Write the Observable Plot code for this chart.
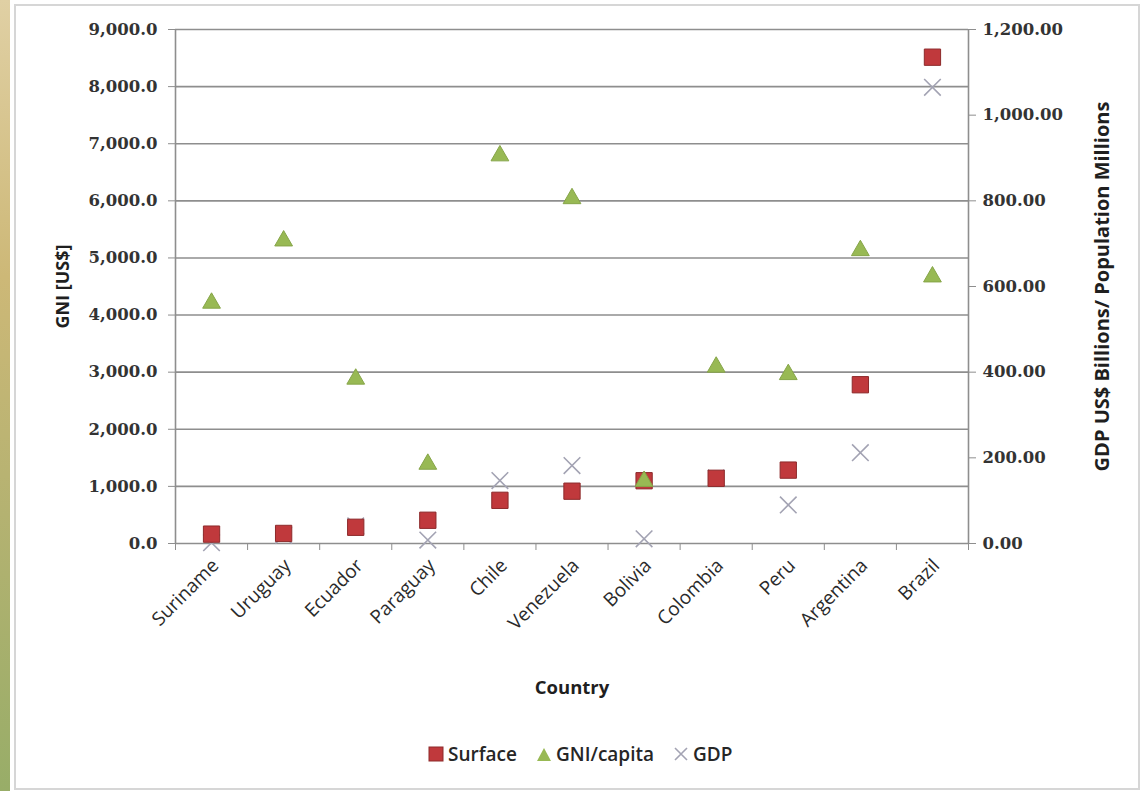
<!DOCTYPE html>
<html>
<head>
<meta charset="utf-8">
<script src="https://cdn.jsdelivr.net/npm/d3@7"></script>
<script src="https://cdn.jsdelivr.net/npm/@observablehq/plot@0.6"></script>
<style>
  html, body { margin: 0; padding: 0; background: #fff; }
  #page { position: relative; width: 1145px; height: 791px; overflow: hidden; background: #fff; }
  #stripe { position: absolute; left: 0; top: 0; width: 10px; height: 791px;
    background: linear-gradient(to bottom, #e0d0a4 0%, #cdb877 35%, #b4b271 65%, #98ad68 100%); }
  #frame { position: absolute; left: 14px; top: 4px; width: 1122px; height: 782px;
    border: 2px solid #d6d6d6; }
  #chart { position: absolute; left: 0; top: 0; }
  #legend { position: absolute; left: 428px; top: 741px; display: flex; align-items: center;
    font-family: "Open Sans", sans-serif; font-weight: 600; font-size: 19px; color: #262626; }
  #legend .item { display: flex; align-items: center; margin-right: 19px; }
  #legend svg { margin-right: 4px; }
</style>
</head>
<body>
<div id="page">
  <div id="stripe"></div>
  <div id="frame"></div>
  <div id="chart"></div>
  <div id="legend"></div>
</div>
<script>
// South American countries, ordered by surface area
const countries = ["Suriname", "Uruguay", "Ecuador", "Paraguay", "Chile", "Venezuela",
  "Bolivia", "Colombia", "Peru", "Argentina", "Brazil"];
// Surface, thousand km² (left axis)
const surface = [164, 176, 284, 407, 756, 916, 1099, 1142, 1285, 2780, 8515];
// GNI per capita, US$ (left axis)
const gniPerCapita = [4210, 5300, 2880, 1390, 6790, 6040, 1090, 3090, 2960, 5130, 4670];
// GDP, US$ billions (right axis)
const gdp = [2, 19, 41, 8, 147, 182, 11, 153, 90, 212, 1065];

const leftTicks = d3.range(0, 9001, 1000);
const rightTicks = d3.range(0, 1201, 200);
const rightToLeft = 9000 / 1200; // right axis shares the left scale

const rows = countries.map((c, i) => ({
  country: c, i, surface: surface[i], gni: gniPerCapita[i], gdp: gdp[i]
}));

const serif = "DejaVu Serif, serif";
const sans = "Open Sans, sans-serif";

const chart = Plot.plot({
  width: 1145,
  height: 725,
  marginLeft: 175,
  marginRight: 177,
  marginTop: 29,
  marginBottom: 182,
  style: { background: "transparent", color: "#333" },
  x: { type: "linear", domain: [0, countries.length] },
  y: { domain: [0, 9000] },
  marks: [
    Plot.gridY(leftTicks.slice(1), { stroke: "#8e8e8e", strokeOpacity: 1, strokeWidth: 1.6 }),
    Plot.ruleY([0], { stroke: "#8e8e8e", strokeWidth: 1.6 }),
    Plot.ruleX([0, countries.length], { stroke: "#8e8e8e", strokeWidth: 1.6 }),
    // left axis: GNI
    Plot.axisY({
      ticks: leftTicks, tickSize: 7, tickPadding: 11, stroke: "#8e8e8e",
      tickFormat: d3.format(",.1f"), fontFamily: serif, fontWeight: "bold", fontSize: 16.5, fill: "#333",
      label: "GNI [US$]", labelAnchor: "center", labelArrow: "none", labelOffset: 119
    }),
    // right axis: GDP / population
    Plot.axisY({
      anchor: "right", ticks: rightTicks.map(v => v * rightToLeft), tickSize: 7, tickPadding: 7,
      stroke: "#8e8e8e", tickFormat: d => d3.format(",.2f")(d / rightToLeft),
      fontFamily: serif, fontWeight: "bold", fontSize: 16.5, fill: "#333",
      label: "GDP US$ Billions/ Population Millions", labelAnchor: "center", labelArrow: "none", labelOffset: 140
    }),
    // category boundary ticks
    Plot.axisX({ ticks: d3.range(0, countries.length + 1), tickSize: 7, tickFormat: () => "", stroke: "#8e8e8e", label: null }),
    // category names
    Plot.axisX({
      ticks: countries.map((c, i) => i + 0.5), tickSize: 0, tickPadding: 19, dx: 4, tickRotate: -45,
      tickFormat: d => countries[Math.floor(d)], fontFamily: sans, fontSize: 19, fill: "#2a2a2a",
      label: "Country", labelAnchor: "center", labelArrow: "none", labelOffset: 150
    }),
    // GDP sits beneath the primary-axis series
    Plot.dot(rows, {
      x: d => d.i + 0.5, y: d => d.gdp * rightToLeft, symbol: "times", r: 7.6,
      stroke: "#a3a3b3", strokeWidth: 1.6
    }),
    Plot.dot(rows, {
      x: d => d.i + 0.5, y: "surface", symbol: "square", r: 9.2,
      fill: "#c0393c", stroke: "#8d2a2b", strokeWidth: 1
    }),
    Plot.dot(rows, {
      x: d => d.i + 0.5, y: "gni", symbol: "triangle", r: 6.6,
      fill: "#98b954", stroke: "#86a548", strokeWidth: 1
    })
  ]
});

// axis titles styling
const svg = d3.select(chart);
svg.selectAll("g[aria-label='y-axis label'] text")
  .attr("font-family", sans).attr("font-weight", "bold").attr("fill", "#1f1f1f")
  .attr("font-size", (d, i, nodes) => nodes[i].textContent.startsWith("GDP") ? 20 : 18);
svg.selectAll("g[aria-label='x-axis label'] text")
  .attr("font-family", sans).attr("font-weight", "bold").attr("font-size", 18.5).attr("fill", "#1f1f1f");

document.getElementById("chart").appendChild(chart);

// legend
const legendItems = [
  { name: "Surface", shape: `<rect x="1" y="1" width="14" height="14" fill="#c0393c" stroke="#8d2a2b"/>` },
  { name: "GNI/capita", shape: `<path d="M8 2 L15 15 L1 15 Z" fill="#98b954"/>` },
  { name: "GDP", shape: `<path d="M2 2 L14 14 M14 2 L2 14" stroke="#a3a3b3" stroke-width="1.6"/>` }
];
const legend = document.getElementById("legend");
for (const it of legendItems) {
  const div = document.createElement("div");
  div.className = "item";
  div.innerHTML = `<svg width="16" height="16">${it.shape}</svg><span>${it.name}</span>`;
  legend.appendChild(div);
}
</script>
</body>
</html>
